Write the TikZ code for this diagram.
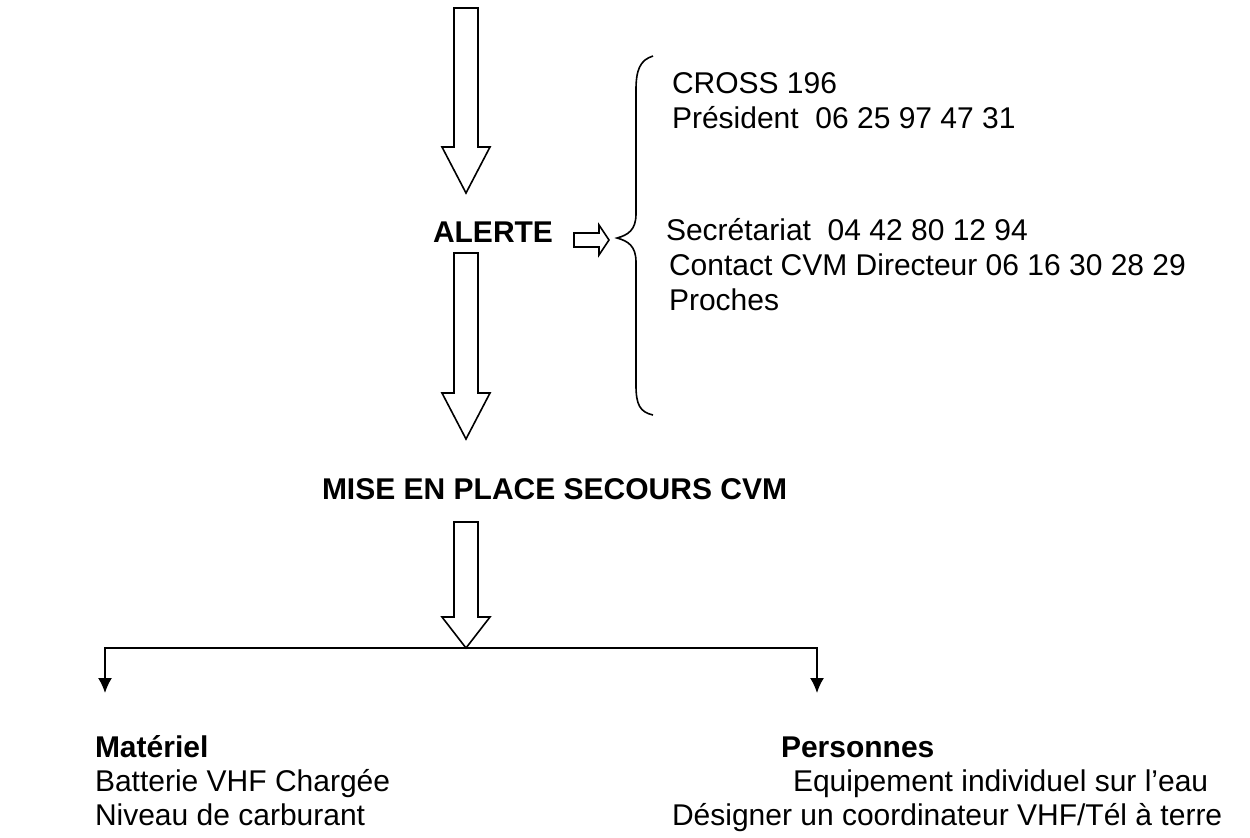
\documentclass[tikz,border=0pt]{standalone}
\usepackage{fontspec}
\setmainfont{Liberation Sans}
\usetikzlibrary{arrows.meta}
\begin{document}
\begin{tikzpicture}[x=0.5pt,y=-0.5pt,
  blockarrow/.style={draw=black,line width=0.8pt,fill=white,line join=miter},
  txt/.style={anchor=base west,inner sep=0pt,outer sep=0pt,font=\fontsize{15}{18}\selectfont},
  btxt/.style={txt,font=\fontsize{15}{18}\selectfont\bfseries},
  link/.style={draw=black,line width=0.8pt,-{Latex[length=7.5pt,width=7pt]}}]
\useasboundingbox (0,0) rectangle (1250,837);
% block arrow 1
\draw[blockarrow] (454,8) -- (478,8) -- (478,147) -- (490,147) -- (466,193) -- (442,147) -- (454,147) -- cycle;
% ALERTE
\node[btxt] (alerte) at (433,242) {ALERTE};
% small arrow
\draw[blockarrow] (574,233) -- (599,233) -- (599,225) -- (609,240) -- (599,255) -- (599,247) -- (574,247) -- cycle;
% brace
\draw[line width=0.8pt] (653,56) .. controls (640,60) and (636,70) .. (636,90)
  -- (636,214) .. controls (636,230) and (628,235) .. (617,238)
  .. controls (628,241) and (636,246) .. (636,262)
  -- (636,385) .. controls (636,405) and (640,412) .. (653,415);
% contact texts
\node[txt] (cross) at (672,93) {CROSS 196};
\node[txt] (pres) at (672,128) {Président\ \ 06 25 97 47 31};
\node[txt] (secr) at (666,240) {Secrétariat\ \ 04 42 80 12 94};
\node[txt] (cont) at (669,275) {Contact CVM Directeur 06 16 30 28 29};
\node[txt] (proc) at (669,310) {Proches};
% block arrow 2
\draw[blockarrow] (454,253) -- (478,253) -- (478,393) -- (490,393) -- (466,439) -- (442,393) -- (454,393) -- cycle;
% MISE EN PLACE
\node[btxt] (mise) at (322,499) {MISE EN PLACE SECOURS CVM};
% block arrow 3
\draw[blockarrow] (454,522) -- (478,522) -- (478,617) -- (490,617) -- (466,648) -- (442,617) -- (454,617) -- cycle;
\coordinate (split) at (466,648);
\coordinate (lend) at (105,693);
\coordinate (rend) at (817,693);
\draw[link] (split) -| (lend);
\draw[link] (split) -| (rend);
% bottom texts
\node[btxt] (mat) at (95,757) {Matériel};
\node[txt] (bat) at (95,791) {Batterie VHF Chargée};
\node[txt] (niv) at (95,825) {Niveau de carburant};
\node[btxt] (pers) at (781,757) {Personnes};
\node[txt] (equ) at (793,791) {Equipement individuel sur l’eau};
\node[txt] (des) at (672,825) {Désigner un coordinateur VHF/Tél à terre};
\end{tikzpicture}
\end{document}
